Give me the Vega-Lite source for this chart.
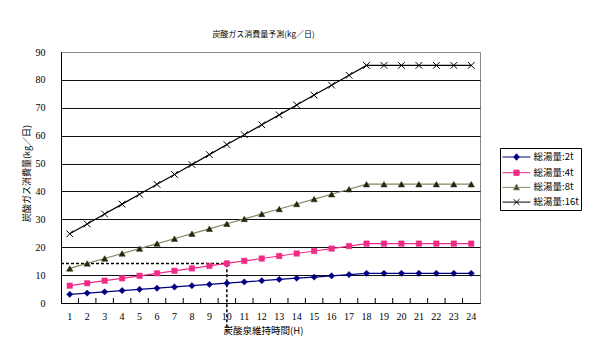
{
  "$schema": "https://vega.github.io/schema/vega-lite/v6.json",
  "autosize": {"type": "none"},
  "width": 419,
  "height": 251,
  "padding": {"left": 61, "top": 52, "right": 120, "bottom": 54},
  "background": "white",
  "title": {"text": "炭酸ガス消費量予測(kg／日)", "font": "Noto Sans CJK JP", "fontSize": 8, "fontWeight": "normal", "color": "black", "anchor": "middle", "frame": "group", "baseline": "bottom", "offset": 0, "dx": -7},
  "data": {"values": [
    {"day": 1, "2t": 3.1, "4t": 6.2, "8t": 12.4, "16t": 24.8},
    {"day": 2, "2t": 3.55, "4t": 7.1, "8t": 14.2, "16t": 28.35},
    {"day": 3, "2t": 4.0, "4t": 8.0, "8t": 15.95, "16t": 31.9},
    {"day": 4, "2t": 4.45, "4t": 8.85, "8t": 17.75, "16t": 35.45},
    {"day": 5, "2t": 4.9, "4t": 9.75, "8t": 19.5, "16t": 39.0},
    {"day": 6, "2t": 5.3, "4t": 10.65, "8t": 21.3, "16t": 42.55},
    {"day": 7, "2t": 5.75, "4t": 11.55, "8t": 23.05, "16t": 46.1},
    {"day": 8, "2t": 6.2, "4t": 12.4, "8t": 24.85, "16t": 49.65},
    {"day": 9, "2t": 6.65, "4t": 13.3, "8t": 26.6, "16t": 53.2},
    {"day": 10, "2t": 7.1, "4t": 14.2, "8t": 28.4, "16t": 56.8},
    {"day": 11, "2t": 7.55, "4t": 15.1, "8t": 30.15, "16t": 60.35},
    {"day": 12, "2t": 8.0, "4t": 15.95, "8t": 31.95, "16t": 63.9},
    {"day": 13, "2t": 8.45, "4t": 16.85, "8t": 33.7, "16t": 67.45},
    {"day": 14, "2t": 8.9, "4t": 17.75, "8t": 35.5, "16t": 71.0},
    {"day": 15, "2t": 9.3, "4t": 18.65, "8t": 37.25, "16t": 74.55},
    {"day": 16, "2t": 9.75, "4t": 19.5, "8t": 39.0, "16t": 78.1},
    {"day": 17, "2t": 10.2, "4t": 20.4, "8t": 40.8, "16t": 81.65},
    {"day": 18, "2t": 10.65, "4t": 21.3, "8t": 42.6, "16t": 85.2},
    {"day": 19, "2t": 10.65, "4t": 21.3, "8t": 42.6, "16t": 85.2},
    {"day": 20, "2t": 10.65, "4t": 21.3, "8t": 42.6, "16t": 85.2},
    {"day": 21, "2t": 10.65, "4t": 21.3, "8t": 42.6, "16t": 85.2},
    {"day": 22, "2t": 10.65, "4t": 21.3, "8t": 42.6, "16t": 85.2},
    {"day": 23, "2t": 10.65, "4t": 21.3, "8t": 42.6, "16t": 85.2},
    {"day": 24, "2t": 10.65, "4t": 21.3, "8t": 42.6, "16t": 85.2}
  ]},
  "transform": [{"fold": ["2t", "4t", "8t", "16t"], "as": ["series", "value"]}],
  "encoding": {
    "x": {"field": "day", "type": "ordinal", "scale": {"type": "band", "paddingInner": 0, "paddingOuter": 0},
      "axis": {"title": "炭酸泉維持時間(H)", "labelAngle": 0, "ticks": false, "domainColor": "black", "labelFont": "Liberation Serif", "labelFontSize": 10, "labelColor": "black", "labelPadding": 8, "titleFont": "Noto Sans CJK JP", "titleFontSize": 9.5, "titleFontWeight": "normal", "titleColor": "black", "titlePadding": 4, "titleX": 202, "grid": false}},
    "y": {"field": "value", "type": "quantitative", "scale": {"domain": [0, 90], "nice": false, "zero": true},
      "axis": {"title": "炭酸ガス消費量(kg／日)", "values": [0, 10, 20, 30, 40, 50, 60, 70, 80, 90], "ticks": false, "domainColor": "black", "labelFont": "Liberation Serif", "labelFontSize": 10, "labelColor": "black", "labelPadding": 16, "titleFont": "Noto Sans CJK JP", "titleFontSize": 9, "titleFontWeight": "normal", "titleColor": "black", "titlePadding": 4, "titleY": 121, "grid": true, "gridColor": {"condition": {"test": "datum.value === 90", "value": "#8a8a8a"}, "value": "#111111"}, "gridWidth": 1}}
  },
  "layer": [
    {
      "transform": [{"filter": "datum.series === '2t' && datum.day > 1"}],
      "mark": {"type": "rule", "color": "black", "strokeWidth": 1},
      "encoding": {"x": {"field": "day", "type": "ordinal", "bandPosition": 0}, "y": {"datum": 0, "type": "quantitative"}, "y2": {"datum": 1.8}}
    },
    {
      "data": {"values": [{"day": 10, "value": 14.2}]},
      "transform": [],
      "mark": {"type": "rule", "color": "black", "strokeDash": [3, 2], "strokeWidth": 1.5},
      "encoding": {"x": {"datum": 1, "type": "ordinal", "bandPosition": 0}, "x2": {"field": "day"}, "y": {"field": "value", "type": "quantitative"}}
    },
    {
      "data": {"values": [{"day": 10, "value": 14.2}]},
      "transform": [],
      "mark": {"type": "rule", "color": "black", "strokeDash": [3, 2], "strokeWidth": 1.5},
      "encoding": {"y": {"datum": -10.5, "type": "quantitative"}, "y2": {"field": "value"}}
    },
    {
      "mark": {"type": "line", "strokeWidth": 1.2},
      "encoding": {"stroke": {"field": "series", "type": "nominal", "scale": {"domain": ["2t", "4t", "8t", "16t"], "range": ["#000080", "#f02b86", "#858565", "#000000"]},
        "legend": {"title": null, "labelExpr": "'総湯量:' + datum.label"}}}
    },
    {
      "transform": [{"filter": "datum.series === '2t'"}],
      "mark": {"type": "point", "shape": "diamond", "size": 40, "filled": true, "fill": "#000080", "stroke": "#000080", "strokeWidth": 0.5, "opacity": 1},
      "encoding": {}
    },
    {
      "transform": [{"filter": "datum.series === '4t'"}],
      "mark": {"type": "point", "shape": "square", "size": 30, "filled": true, "fill": "#f02b86", "stroke": "#f02b86", "strokeWidth": 0.5, "opacity": 1},
      "encoding": {}
    },
    {
      "transform": [{"filter": "datum.series === '8t'"}],
      "mark": {"type": "point", "shape": "triangle-up", "size": 40, "filled": true, "fill": "#26260c", "stroke": "#26260c", "strokeWidth": 0.5, "opacity": 1},
      "encoding": {}
    },
    {
      "transform": [{"filter": "datum.series === '16t'"}],
      "mark": {"type": "point", "shape": "M-1,-1L1,1M-1,1L1,-1", "size": 45, "filled": false, "stroke": "#000000", "strokeWidth": 1, "opacity": 1},
      "encoding": {}
    },
    {
      "mark": {"type": "point", "filled": true, "opacity": 0},
      "encoding": {
        "stroke": {"field": "series", "type": "nominal", "legend": {"title": null, "labelExpr": "'総湯量:' + datum.label"}},
        "fill": {"field": "series", "type": "nominal", "scale": {"domain": ["2t", "4t", "8t", "16t"], "range": ["#000080", "#f02b86", "#26260c", "transparent"]},
          "legend": {"title": null, "labelExpr": "'総湯量:' + datum.label"}},
        "shape": {"field": "series", "type": "nominal", "scale": {"domain": ["2t", "4t", "8t", "16t"], "range": [
          "M-2.15,0H2.15M0,-0.5L0.42,0L0,0.5L-0.42,0Z",
          "M-2.15,0H2.15M-0.4,-0.4H0.4V0.4H-0.4Z",
          "M-2.15,0H2.15M0,-0.5L0.46,0.38H-0.46Z",
          "M-2.15,0H2.15M-0.46,-0.46L0.46,0.46M-0.46,0.46L0.46,-0.46"]},
          "legend": {"title": null, "labelExpr": "'総湯量:' + datum.label"}}
      }
    }
  ],
  "config": {
    "view": {"stroke": "#8a8a8a", "strokeWidth": 1},
    "legend": {"orient": "none", "legendX": 439, "legendY": 96, "padding": 2, "strokeColor": "black", "fillColor": "white", "symbolSize": 169, "symbolStrokeWidth": 1, "symbolOpacity": 1, "symbolOffset": 7.5, "labelFont": "Noto Sans CJK JP", "labelFontSize": 9.5, "labelColor": "black", "labelOffset": 10, "rowPadding": 2.7, "labelBaseline": "middle"}
  }
}
